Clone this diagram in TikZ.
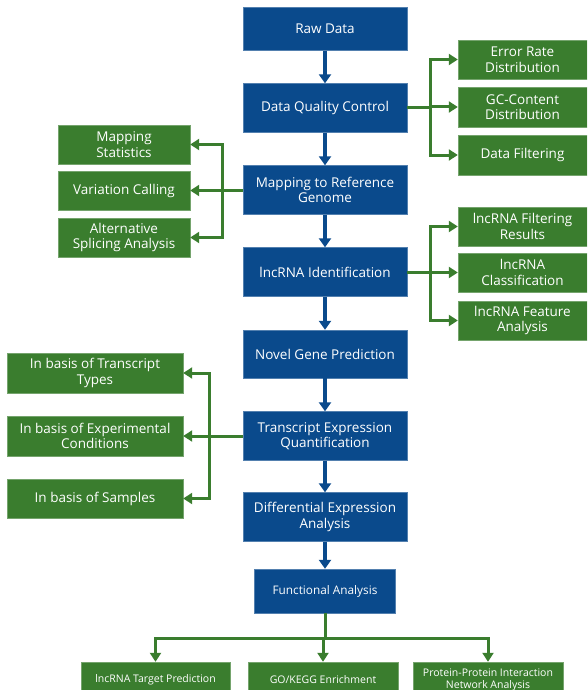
\documentclass[tikz,border=0pt]{standalone}
\usepackage{fontspec}
\setmainfont{Open Sans}
\definecolor{flowblue}{RGB}{10,74,140}
\definecolor{flowgreen}{RGB}{58,125,46}
\usepackage{tikz}
\usetikzlibrary{arrows.meta,positioning}

\begin{document}
\begin{tikzpicture}[x=1pt,y=-1pt,
    bluebox/.style={rectangle,fill=flowblue,draw=flowblue!70!white,text=white,align=center,
      minimum width=164pt,minimum height=49pt,inner sep=1pt,font=\fontsize{13.5}{15.5}\selectfont},
    greenbox/.style={rectangle,fill=flowgreen,draw=flowgreen!70!white,text=white,align=center,
      minimum height=39pt,inner sep=1pt,font=\fontsize{13.5}{15.5}\selectfont},
    barrow/.style={-{Triangle[width=12pt,length=9pt]},line width=3.2pt,draw=flowblue},
    gline/.style={line width=3pt,draw=flowgreen},
    garrow/.style={-{Triangle[width=11pt,length=9pt]},line width=3pt,draw=flowgreen}]
        \clip (0,0) rectangle (587,690);
        % main pipeline
        \node[bluebox,minimum height=43pt] (raw) at (325,29) {Raw Data};
        \node[bluebox] (qc) at (325,108) {Data Quality Control};
        \node[bluebox] (map) at (325,190) {Mapping to Reference\\Genome};
        \node[bluebox] (ident) at (325,272) {lncRNA Identification};
        \node[bluebox,minimum height=48pt] (novel) at (325,354) {Novel Gene Prediction};
        \node[bluebox] (quant) at (325,436) {Transcript Expression\\Quantification};
        \node[bluebox] (diff) at (325,517) {Differential Expression\\Analysis};
        \node[bluebox,minimum width=141pt,minimum height=44pt,font=\fontsize{11.8}{14}\selectfont] (func) at (325,591) {Functional Analysis};
        \foreach \a/\b in {raw/qc,qc/map,map/ident,ident/novel,novel/quant,quant/diff,diff/func}
          \draw[barrow] (\a) -- (\b);
        % quality control outputs
        \node[greenbox,minimum width=129pt] (err) at (522.5,59.5) {Error Rate\\Distribution};
        \node[greenbox,minimum width=129pt,minimum height=40pt] (gc) at (522.5,107) {GC-Content\\Distribution};
        \node[greenbox,minimum width=129pt,minimum height=40pt] (filt) at (522.5,155) {Data Filtering};
        \coordinate (qcfork) at (430,108);
        \draw[gline] (qc) -- (qcfork);
        \foreach \n in {err,gc,filt}
          \draw[garrow] (qcfork) |- (\n);
        % mapping outputs
        \node[greenbox,minimum width=132pt] (mstat) at (124,144.5) {Mapping\\Statistics};
        \node[greenbox,minimum width=132pt] (var) at (124,190.5) {Variation Calling};
        \node[greenbox,minimum width=132pt] (alt) at (124,237.5) {Alternative\\Splicing Analysis};
        \coordinate (mapfork) at (222,190);
        \draw[gline] (map) -- (mapfork);
        \foreach \n in {mstat,var,alt}
          \draw[garrow] (mapfork) |- (\n);
        % lncRNA outputs
        \node[greenbox,minimum width=129pt] (lfilt) at (522.5,226.5) {lncRNA Filtering\\Results};
        \node[greenbox,minimum width=129pt] (lclass) at (522.5,272.5) {lncRNA\\Classification};
        \node[greenbox,minimum width=129pt] (lfeat) at (522.5,320.5) {lncRNA Feature\\Analysis};
        \coordinate (identfork) at (430,272);
        \draw[gline] (ident) -- (identfork);
        \foreach \n in {lfilt,lclass,lfeat}
          \draw[garrow] (identfork) |- (\n);
        % quantification outputs
        \node[greenbox,minimum width=176pt,minimum height=40pt] (ttype) at (95,373) {In basis of Transcript\\Types};
        \node[greenbox,minimum width=176pt,minimum height=40pt] (tcond) at (95,436) {In basis of Experimental\\Conditions};
        \node[greenbox,minimum width=176pt] (tsamp) at (95,498.5) {In basis of Samples};
        \coordinate (quantfork) at (209,436);
        \draw[gline] (quant) -- (quantfork);
        \foreach \n in {ttype,tcond,tsamp}
          \draw[garrow] (quantfork) |- (\n);
        % functional analysis outputs
        \node[greenbox,minimum width=149pt,minimum height=36pt,font=\fontsize{10.5}{11.5}\selectfont] (targ) at (155.5,680) {lncRNA Target Prediction};
        \node[greenbox,minimum width=150pt,minimum height=36pt,font=\fontsize{10.5}{11.5}\selectfont] (go) at (323,680) {GO/KEGG Enrichment};
        \node[greenbox,minimum width=150pt,minimum height=36pt,font=\fontsize{10.5}{11.5}\selectfont] (ppi) at (488,680) {Protein-Protein Interaction\\Network Analysis};
        \coordinate (funcfork) at (325,638);
        \draw[gline] (func) -- (funcfork);
        \foreach \n in {targ,go,ppi}
          \draw[garrow] (funcfork) -| (\n);
      \end{tikzpicture}
\end{document}
